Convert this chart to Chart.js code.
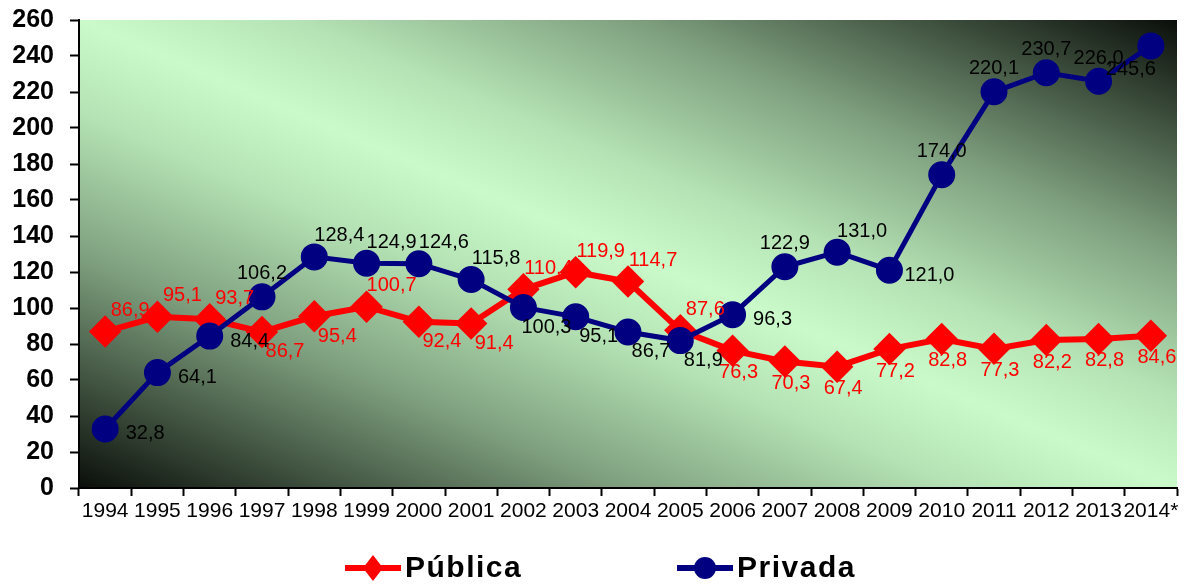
<!DOCTYPE html>
<html>
<head>
<meta charset="utf-8">
<script src="https://cdn.jsdelivr.net/npm/chart.js@4/dist/chart.umd.min.js"></script>
<style>
  html, body { margin: 0; padding: 0; background: #fff; }
  #wrap { width: 1195px; height: 584px; position: relative; }
</style>
</head>
<body>
<div id="wrap"><canvas id="myChart" width="1195" height="584"></canvas></div>
<script>
const years = ['1994', '1995', '1996', '1997', '1998', '1999', '2000', '2001', '2002', '2003', '2004',
  '2005', '2006', '2007', '2008', '2009', '2010', '2011', '2012', '2013', '2014*'];
const publica = [86.9, 95.1, 93.7, 86.7, 95.4, 100.7, 92.4, 91.4, 110.4, 119.9, 114.7,
  87.6, 76.3, 70.3, 67.4, 77.2, 82.8, 77.3, 82.2, 82.8, 84.6];
const privada = [32.8, 64.1, 84.4, 106.2, 128.4, 124.9, 124.6, 115.8, 100.3, 95.1, 86.7,
  81.9, 96.3, 122.9, 131.0, 121.0, 174.0, 220.1, 230.7, 226.0, 245.6];
const yMin = 0, yMax = 260, yStep = 20;

// where each value label sits next to its point
const publicaLabelPos = ['a', 'a', 'a', 'b', 'b', 'a', 'b', 'b', 'a', 'a', 'a',
  'a', 'B', 'B', 'B', 'B', 'B', 'B', 'B', 'B', 'B'];
const privadaLabelPos = ['r', 'r', 'r', 'A', 'a', 'a', 'a', 'a', 'b', 'b', 'b',
  'b', 'r', 'A', 'a', 'r', 'A', 'A', 'A', 'A', 'L'];
const labelOffsets = {
  a: [25, -21], b: [23, 20], r: [40, 5], A: [0, -23], B: [6, 22], L: [-20, 24]
};

const fmt = v => v.toFixed(1).replace('.', ',');

const bgPlugin = {
  id: 'bg',
  beforeDraw(chart) {
    const { ctx, chartArea: a } = chart;
    const w = a.right - a.left, h = a.bottom - a.top;
    const cx = a.left + w / 2, cy = a.top + h / 2;
    const len = Math.hypot(w, h);
    const nx = h / len, ny = -w / len;
    const d = (w * h) / len;
    const g = ctx.createLinearGradient(cx - nx * d, cy - ny * d, cx + nx * d, cy + ny * d);
    g.addColorStop(0, '#0a0e0a');
    g.addColorStop(0.1, '#384838');
    g.addColorStop(0.25, '#7fa07f');
    g.addColorStop(0.4, '#b4e2b4');
    g.addColorStop(0.5, '#cafaca');
    g.addColorStop(0.6, '#b4e2b4');
    g.addColorStop(0.75, '#7fa07f');
    g.addColorStop(0.9, '#384838');
    g.addColorStop(1, '#0a0e0a');
    ctx.save();
    ctx.fillStyle = g;
    ctx.fillRect(a.left, a.top, w, h);
    ctx.restore();
  }
};

const labelPlugin = {
  id: 'valueLabels',
  afterDatasetsDraw(chart) {
    const { ctx } = chart;
    const sets = [[publica, publicaLabelPos, '#ff0000'], [privada, privadaLabelPos, '#000000']];
    ctx.save();
    ctx.font = '20px "Liberation Sans", Arial, sans-serif';
    ctx.textAlign = 'center';
    ctx.textBaseline = 'middle';
    sets.forEach(([vals, pos, color], di) => {
      const meta = chart.getDatasetMeta(di);
      ctx.fillStyle = color;
      meta.data.forEach((pt, i) => {
        const [dx, dy] = labelOffsets[pos[i]];
        ctx.fillText(fmt(vals[i]), pt.x + dx, pt.y + dy);
      });
    });
    ctx.restore();
  }
};

const legendPlugin = {
  id: 'bottomLegend',
  afterDraw(chart) {
    const { ctx } = chart;
    const items = [
      { text: 'Pública', color: '#ff0000', shape: 'diamond', x: 345 },
      { text: 'Privada', color: '#000080', shape: 'circle', x: 677 }
    ];
    const y = 568;
    ctx.save();
    items.forEach(it => {
      ctx.strokeStyle = it.color;
      ctx.fillStyle = it.color;
      ctx.lineWidth = 6;
      ctx.beginPath();
      ctx.moveTo(it.x, y);
      ctx.lineTo(it.x + 56, y);
      ctx.stroke();
      const mx = it.x + 28;
      ctx.beginPath();
      if (it.shape === 'diamond') {
        ctx.moveTo(mx, y - 13); ctx.lineTo(mx + 10, y); ctx.lineTo(mx, y + 13); ctx.lineTo(mx - 10, y);
        ctx.closePath();
      } else {
        ctx.arc(mx, y, 11, 0, Math.PI * 2);
      }
      ctx.fill();
      ctx.fillStyle = '#000';
      ctx.font = 'bold 30px "Liberation Sans", Arial, sans-serif';
      ctx.textAlign = 'left';
      ctx.textBaseline = 'middle';
      ctx.letterSpacing = '1.5px';
      ctx.fillText(it.text, it.x + 60, y + 1);
    });
    ctx.restore();
  }
};

new Chart(document.getElementById('myChart'), {
  type: 'line',
  data: {
    labels: years,
    datasets: [
      {
        label: 'Pública',
        data: publica,
        borderColor: '#ff0000',
        backgroundColor: '#ff0000',
        borderWidth: 6,
        pointStyle: 'rectRot',
        pointRadius: 12,
        pointHoverRadius: 12,
        tension: 0,
        order: 1
      },
      {
        label: 'Privada',
        data: privada,
        borderColor: '#000080',
        backgroundColor: '#000080',
        borderWidth: 5,
        pointStyle: 'circle',
        pointRadius: 11,
        pointHoverRadius: 11,
        tension: 0,
        order: 0
      }
    ]
  },
  options: {
    responsive: false,
    animation: false,
    events: [],
    layout: { padding: { left: 0, right: 9, top: 20, bottom: 56 } },
    plugins: { legend: { display: false }, tooltip: { enabled: false } },
    scales: {
      x: {
        offset: true,
        grid: { offset: true, drawOnChartArea: false, drawTicks: true, tickLength: 8, tickColor: '#000', tickWidth: 2 },
        border: { display: true, color: '#000', width: 2 },
        ticks: {
          autoSkip: false, maxRotation: 0, minRotation: 0, padding: 3, color: '#000',
          font: { family: '"Liberation Sans", Arial, sans-serif', size: 21 }
        },
        afterFit(scale) { scale.height = 40; scale.paddingLeft = 0; scale.paddingRight = 0; }
      },
      y: {
        min: yMin, max: yMax,
        grid: { drawOnChartArea: false, drawTicks: true, tickLength: 9, tickColor: '#000', tickWidth: 2 },
        border: { display: true, color: '#000', width: 2 },
        ticks: {
          stepSize: yStep, padding: 16, color: '#000',
          font: { family: '"Liberation Sans Narrow", "Liberation Sans", Arial, sans-serif', size: 25, weight: 'bold' }
        },
        afterFit(scale) { scale.width = 79; scale.paddingTop = 0; scale.paddingBottom = 0; }
      }
    }
  },
  plugins: [bgPlugin, labelPlugin, legendPlugin]
});
</script>
</body>
</html>
